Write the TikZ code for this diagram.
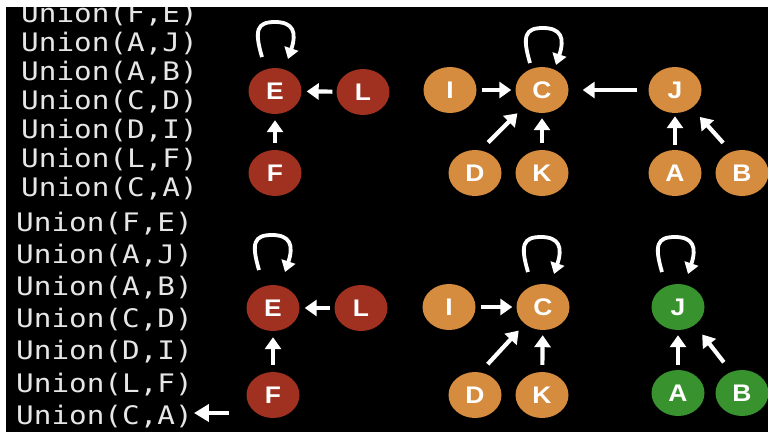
\documentclass[tikz,border=0pt]{standalone}
\usepackage{fontspec}
\usetikzlibrary{arrows.meta,shapes.geometric}
\newfontfamily\codefont[FakeStretch=1.15]{DejaVu Sans Mono}
\newfontfamily\letterfont[FakeStretch=1.1]{Liberation Sans}
\definecolor{ndred}{HTML}{A0301F}
\definecolor{ndorange}{HTML}{D58C3F}
\definecolor{ndgreen}{HTML}{38922E}
\definecolor{codegray}{HTML}{E6E6E6}
\tikzset{
  nd/.style={ellipse, minimum width=53pt, minimum height=46pt, inner sep=0pt,
    text=white, font=\letterfont\bfseries\fontsize{24}{24}\selectfont},
  rednd/.style={nd, fill=ndred},
  orangend/.style={nd, fill=ndorange},
  greennd/.style={nd, fill=ndgreen},
  codeline/.style={anchor=base west, inner sep=0pt, text=codegray,
    font=\codefont\fontsize{25.5}{25.5}\selectfont},
  arr/.style={draw=white, line width=4.2pt, -{Triangle[length=12pt,width=16pt]}},
  selfloop/.style={draw=white, line width=3.8pt, -{Triangle[length=11pt,width=14pt]}},
  loopmark/.pic={\draw[selfloop] (-13,35) .. controls (-21,8) and (-18,0) .. (0,0)
     .. controls (18,0) and (22,10) .. (13,37);},
}
\begin{document}
\begin{tikzpicture}[x=1pt,y=-1pt]
\fill[black] (0,0) rectangle (768,432);
\useasboundingbox (0,0) rectangle (768,432);

% ---- code lines, upper frame
\node[codeline] (u1) at (21,22) {Union(F,E)};
\node[codeline] (u2) at (21,51) {Union(A,J)};
\node[codeline] (u3) at (21,80) {Union(A,B)};
\node[codeline] (u4) at (21,109) {Union(C,D)};
\node[codeline] (u5) at (21,138) {Union(D,I)};
\node[codeline] (u6) at (21,167) {Union(L,F)};
\node[codeline] (u7) at (21,196) {Union(C,A)};
% ---- code lines, lower frame
\node[codeline] (l1) at (16,231) {Union(F,E)};
\node[codeline] (l2) at (16,263.2) {Union(A,J)};
\node[codeline] (l3) at (16,295.4) {Union(A,B)};
\node[codeline] (l4) at (16,327.6) {Union(C,D)};
\node[codeline] (l5) at (16,359.8) {Union(D,I)};
\node[codeline] (l6) at (16,392) {Union(L,F)};
\node[codeline] (l7) at (16,424.2) {Union(C,A)};
\coordinate (ptrtail) at (229,413);
\draw[arr, -{Triangle[length=15pt,width=17pt]}, shorten >=1pt] (ptrtail) -- (ptrtail -| l7.east);

% ---- upper frame nodes
\node[rednd] (uE) at (275,91) {E};
\node[rednd] (uL) at (363,92) {L};
\node[rednd] (uF) at (275,173) {F};
\node[orangend] (uI) at (450,90) {I};
\node[orangend] (uC) at (542,90) {C};
\node[orangend] (uJ) at (675,90) {J};
\node[orangend] (uD) at (475,173) {D};
\node[orangend] (uK) at (542,173) {K};
\node[orangend] (uA) at (675,173) {A};
\node[orangend] (uB) at (742,173) {B};

\draw[arr, shorten <=4pt, shorten >=5pt] (uL) -- (uE);
\draw[arr, shorten <=7pt, shorten >=6pt] (uF) -- (uE);
\draw[arr, shorten <=5pt, shorten >=4pt] (uI) -- (uC);
\draw[arr, shorten <=11pt, shorten >=14pt] (uJ) -- (uC);
\draw[arr, shorten <=7pt, shorten >=5pt] (uK) -- (uC);
\draw[arr, shorten <=11pt, shorten >=9pt] (uD.77) -- (uC.223);
\draw[arr, shorten <=5pt, shorten >=3pt] (uA) -- (uJ);
\draw[arr, shorten <=12pt, shorten >=12pt] (uB.117) -- (uJ.313);
\pic at ([shift={(0,-69)}]uE.center) {loopmark};
\pic at ([shift={(1,-62)}]uC.center) {loopmark};

% ---- lower frame nodes
\node[rednd] (lE) at (273,308) {E};
\node[rednd] (lL) at (361,308) {L};
\node[rednd] (lF) at (273,395) {F};
\node[orangend] (lI) at (449,307) {I};
\node[orangend] (lC) at (543,307) {C};
\node[orangend] (lD) at (475,395) {D};
\node[orangend] (lK) at (542,395) {K};
\node[greennd] (lJ) at (678,307) {J};
\node[greennd] (lA) at (678,393) {A};
\node[greennd] (lB) at (742,393) {B};

\draw[arr, shorten <=4pt, shorten >=5pt] (lL) -- (lE);
\draw[arr, shorten <=7pt, shorten >=6pt] (lF) -- (lE);
\draw[arr, shorten <=5pt, shorten >=4pt] (lI) -- (lC);
\draw[arr, shorten <=7pt, shorten >=5pt] (lK) -- (lC);
\draw[arr, shorten <=11pt, shorten >=9pt] (lD.77) -- (lC.223);
\draw[arr, shorten <=5pt, shorten >=5pt] (lA) -- (lJ);
\draw[arr, shorten <=12pt, shorten >=12pt] (lB.117) -- (lJ.313);
\pic at ([shift={(-1,-73)}]lE.center) {loopmark};
\pic at ([shift={(-2,-70)}]lC.center) {loopmark};
\pic at ([shift={(-3,-70)}]lJ.center) {loopmark};

% ---- white frame edges
\fill[white] (0,0) rectangle (768,7);
\fill[white] (0,0) rectangle (6,432);
\end{tikzpicture}
\end{document}
